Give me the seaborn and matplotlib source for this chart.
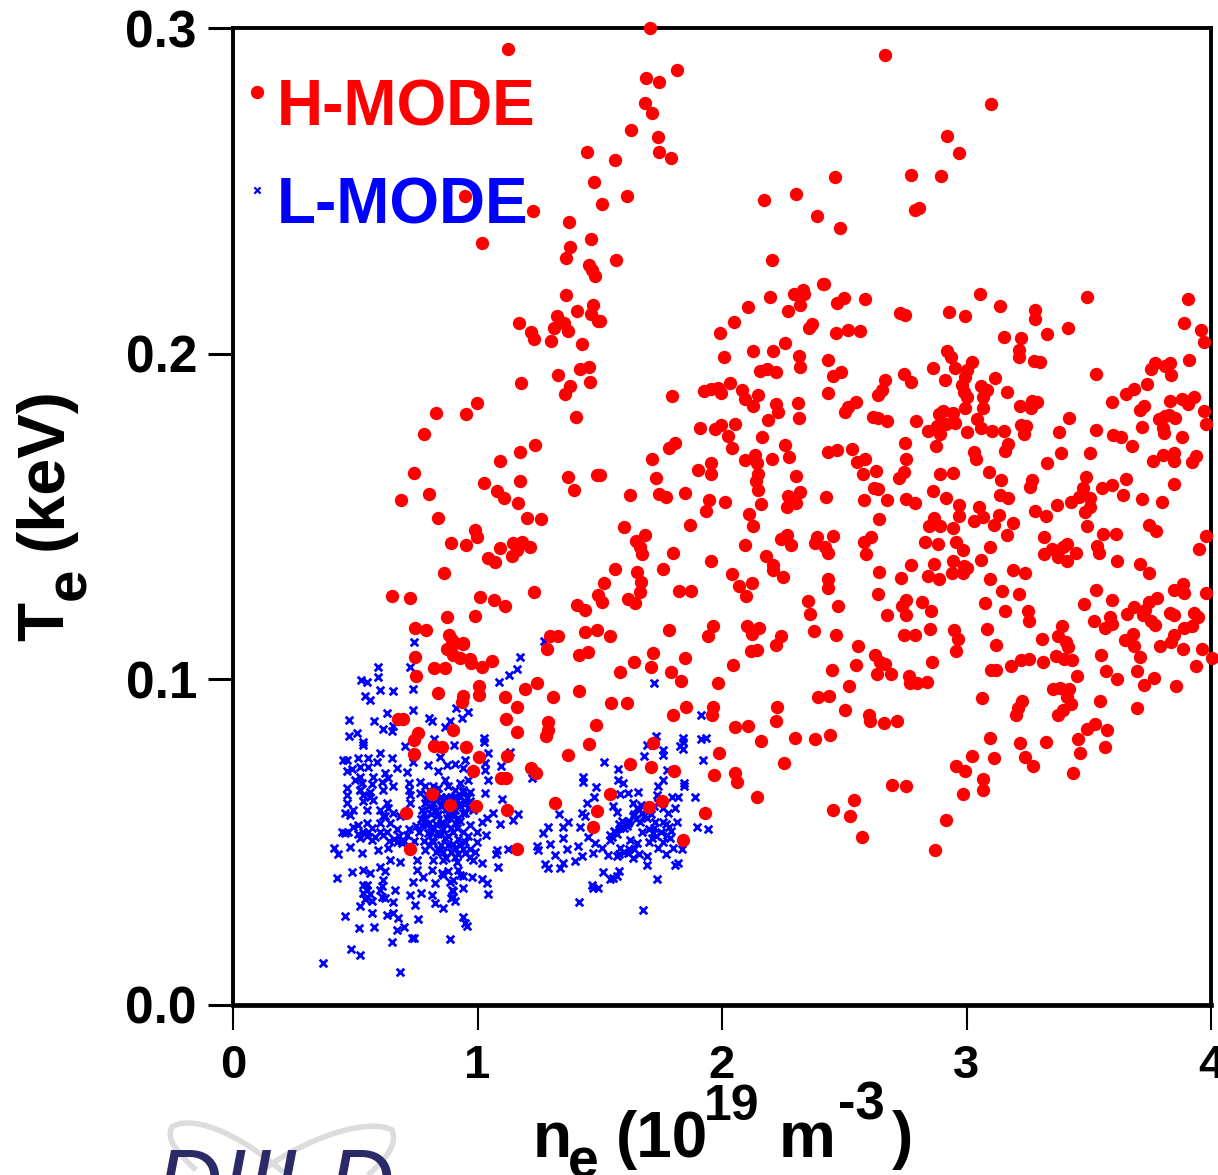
import pandas as pd
import seaborn as sns
import matplotlib.pyplot as plt
from matplotlib.patches import PathPatch
from matplotlib.path import Path

# (ne, Te)
hmode_top = [(1.706,.300),(1.125,.2935),(1.689,.2846),(1.742,.2834),(1.816,.2871),(2.667,.2917),(1.010,.2803),(1.685,.2770),
 (1.714,.2739),(3.100,.2766),(1.628,.2687),(1.738,.2665),(2.920,.2668),(1.742,.2619),(1.791,.2600),(2.969,.2616),(1.448,.2619),
 (1.562,.2594),(2.773,.2548),(2.896,.2545),(2.462,.2542),(1.476,.2527),(.949,.2484),(1.611,.2484),(1.509,.2459),(1.227,.2438),
 (2.172,.2472),(2.303,.2490),(2.789,.2441),(2.806,.2447),(2.389,.2423),(2.483,.2386),(1.374,.2404),(1.018,.2340),(1.464,.2352),
 (1.378,.2327),(1.362,.2294),(1.456,.2272),(1.566,.2287),(2.204,.2287),(1.468,.2257),(1.481,.2238),(2.413,.2214),(1.362,.2180),
 (1.170,.2094),(1.219,.2066),(1.231,.2045),(1.301,.2039),(1.325,.2115),(1.313,.2079),(1.354,.2094),(1.370,.2069),(1.407,.2131),
 (1.472,.2149),(1.464,.2122),(1.493,.2100),(1.427,.2029),(1.456,.1959),(1.419,.1953),(1.329,.1934),(1.460,.1913),(1.378,.1901),
 (1.358,.1876),(1.178,.1910),(.998,.1848),(.953,.1815),(.830,.1818),(1.403,.1805)]

hmode_left = [(.781,.1753),(.740,.1633),(.687,.1551),(.802,.1569),(.838,.1495),(1.174,.1698),(1.235,.1719),(1.092,.1670),(1.027,.1603),
 (1.174,.1609),(1.080,.1578),(1.108,.1557),(1.166,.1541),(1.202,.1495),(1.260,.1492),(.990,.1458),(.998,.1437),(.892,.1418),(.953,.1412),
 (1.145,.1418),(1.182,.1422),(1.215,.1406),(1.162,.1397),(1.141,.1379),(1.092,.1403),(1.043,.1372),(1.072,.1360),(.863,.1326),(.650,.1256),
 (.724,.1250),(1.231,.1268),(1.010,.1253),(1.067,.1243),(1.112,.1225),(.990,.1194),(.875,.1191),(.744,.1158),(.789,.1151),(.883,.1136),
 (.896,.1121),(.941,.1108),(1.407,.1228),(1.440,.1213),(1.493,.1259),(1.440,.1145),(1.489,.1151),(1.297,.1133),(1.329,.1133),(1.370,.1621),
 (1.395,.1581),(1.489,.1627),
 (.744,.1068),(.822,.1035),(.867,.1035),(.748,.1010),(.875,.1093),(.908,.1111),(.941,.1111),(.900,.1075),(.928,.1065),(.969,.1062),
 (.973,.1050),(1.018,.1038),(1.059,.1056),(1.284,.1093),(1.415,.1075),(1.452,.1084),(.838,.0958),(1.006,.0979),(1.006,.0952),(.941,.0949),
 (.937,.0930),(1.112,.0946),(1.194,.0970),(1.243,.0989),(1.309,.0946),(1.415,.0964),(1.162,.0915),(1.117,.0878),(1.162,.0838),(1.288,.0869),
 (1.288,.0844),(1.280,.0826),(1.485,.0860),(1.456,.0801),(1.370,.0768),(.675,.0878),(.695,.0878),(.900,.0844),(.757,.0835),(.740,.0814),
 (.822,.0795),(.855,.0792),(.953,.0792),(.740,.0771),(1.006,.0761),(1.121,.0765),(.982,.0718),(1.096,.0697),(1.117,.0697),(1.219,.0728),
 (1.239,.0712),(.814,.0648),(.888,.0614),(.994,.0611),(.708,.0590),(1.121,.0599),(1.317,.0620),(.724,.0479),(1.162,.0479),(1.489,.0596),(1.472,.0547)]

hmode_upper = [(2.419,.2214),(2.196,.2173),(2.293,.2183),(2.333,.2195),(2.337,.2183),(2.321,.2149),(2.269,.2130),(2.107,.2142),(2.049,.2096),
 (1.992,.2062),(1.501,.2100),(2.471,.2156),(2.500,.2171),(2.584,.2169),(2.367,.2091),(2.355,.2080),(2.466,.2063),(2.515,.2072),(2.566,.2070),
 (2.730,.2124),(2.749,.2118),(2.928,.2129),(2.995,.2115),(3.054,.2183),(3.137,.2147),(3.281,.2134),(3.282,.2107),(3.491,.2175),(3.905,.2169),
 (3.890,.2095),(3.961,.2072),(3.971,.2036),(3.417,.2080),(3.328,.2061),(3.153,.2051),(3.223,.2049),(3.216,.2010),(3.214,.1990),(3.276,.1977),
 (3.299,.1975),(2.256,.2032),(2.209,.2009),(2.128,.2008),(2.007,.1991),(2.316,.1993),(2.321,.1958),(2.434,.1982),(2.487,.1944),(2.455,.1931),
 (2.220,.1945),(2.183,.1954),(2.157,.1946),(2.031,.1911),(1.983,.1896),(1.926,.1886),(1.954,.1890),(1.994,.1880),(1.797,.1869),(2.081,.1889),
 (2.149,.1873),(2.094,.1860),(2.128,.1839),(2.222,.1845),(2.228,.1822),(2.309,.1850),(2.314,.1803),(2.188,.1796),(2.435,.1880),(2.548,.1851),
 (2.516,.1835),(2.503,.1822),(2.665,.1919),(2.655,.1888),(2.639,.1873),(2.743,.1937),(2.773,.1912),(2.616,.1806),(2.636,.1801),(2.673,.1792),
 (2.794,.1793),(2.865,.1956),(2.912,.1919),(2.920,.2008),(2.937,.1989),(2.953,.1956),(3.024,.1973),(3.004,.1950),(2.992,.1929),(2.980,.1904),
 (2.988,.1883),(3.001,.1866),(2.995,.1833),(3.118,.1925),(3.058,.1901),(3.085,.1888),(3.069,.1866),(3.066,.1832),(3.166,.1881),(3.218,.1840),
 (3.266,.1855),(3.289,.1852),(3.265,.1832),(3.418,.1801),(3.528,.1938),(3.594,.1851),(3.651,.1876),(3.686,.1890),(3.740,.1907),(3.756,.1952),
 (3.769,.1970),(3.813,.1962),(3.832,.1970),(3.837,.1935),(3.910,.1980),(3.724,.1840),(3.708,.1827),(3.831,.1855),(3.881,.1862),(3.905,.1845),
 (3.929,.1866),(3.971,.1824),(3.981,.1783),(3.787,.1800),(3.813,.1809),(3.829,.1811),(3.853,.1803),(3.716,.1776),(3.805,.1771),(3.809,.1755),
 (3.881,.1745),(3.530,.1765),(3.598,.1750),(3.632,.1745),(3.677,.1717),(3.379,.1761),(3.388,.1696),(3.506,.1696),(3.329,.1665),(3.761,.1671),
 (3.803,.1690),(3.848,.1696),(3.850,.1671),(3.921,.1666),(3.939,.1687),(3.489,.1622),(3.850,.1599),(3.654,.1615),(3.596,.1597),(3.554,.1588),
 (3.641,.1565),(3.716,.1554),(3.801,.1544),(3.477,.1586),(3.460,.1561),(3.506,.1556),(3.428,.1543),(3.371,.1535),(3.506,.1528),(3.483,.1513),
 (3.281,.1518),(3.324,.1503),(3.493,.1471),(3.557,.1446),(3.611,.1446),(3.745,.1474),(3.777,.1455),(3.979,.1441),(3.950,.1399),(3.318,.1438),
 (3.409,.1417),(3.396,.1405),(3.349,.1399),(3.315,.1385),(3.376,.1375),(3.409,.1363),(3.446,.1387),(3.535,.1409),(3.543,.1389),(3.614,.1363),
 (3.711,.1353),(3.745,.1327),(3.190,.1336),(3.240,.1327),(3.098,.1407),(3.059,.1366),(3.269,.1612),(3.258,.1591),(3.192,.1480),(3.166,.1444),
 (3.134,.1504),(3.114,.1474),(3.030,.1485),(3.066,.1497),(3.050,.1530),(3.171,.1556),(3.135,.1566),(3.143,.1612),(3.092,.1637),(2.969,.1535),
 (2.969,.1502),(2.917,.1557),(2.864,.1579),(2.890,.1632),(2.945,.1635),(3.037,.1676),(3.029,.1699),(3.171,.1722),(3.158,.1702),(3.153,.1762),
 (3.105,.1762),(3.061,.1771),(3.043,.1798),(3.001,.1758),(2.953,.1786),(2.943,.1817),(2.904,.1824),(2.888,.1814),(2.915,.1784),(2.878,.1779),
 (2.843,.1764),(2.891,.1752),(2.877,.1718),(3.223,.1781),(3.245,.1779),(3.236,.1752),(2.747,.1725),(2.752,.1676),(2.743,.1637),(2.723,.1619),
 (2.751,.1554),(2.788,.1542),(2.673,.1550),(2.637,.1583),(2.623,.1589),(2.579,.1552),(2.641,.1492),(2.628,.1639),(2.576,.1629),(2.552,.1668),
 (2.584,.1676),(2.531,.1706),(2.471,.1704),(2.435,.1699),(2.426,.1561),(2.317,.1575),(2.269,.1564),(2.303,.1541),(2.264,.1530),(2.161,.1539),
 (2.146,.1581),(2.140,.1610),(2.146,.1632),(2.144,.1663),(2.135,.1688),(2.094,.1672),(2.204,.1678),(2.272,.1684),(2.259,.1721),(2.301,.1625),
 (2.162,.1744),(2.039,.1709),(2.026,.1748),(2.054,.1783),(1.996,.1782),(1.971,.1769),(1.912,.1772),(1.808,.1727),(1.782,.1709),(1.714,.1678),
 (1.957,.1663),(1.955,.1632),(1.902,.1643),(1.731,.1619),(1.501,.1628),(1.625,.1565),(1.743,.1570),(1.773,.1559),(1.850,.1571),(1.946,.1550),
 (2.013,.1546),(1.933,.1517),(2.112,.1508),(2.125,.1471),(1.868,.1474),(1.600,.1467),(1.685,.1443),(1.650,.1426),(1.663,.1407),(1.674,.1384),
 (1.800,.1389),(1.955,.1364),(2.093,.1411),(2.241,.1432),(2.267,.1443),(2.282,.1414),(2.387,.1436),(2.382,.1419),(2.452,.1440),(2.422,.1407),
 (2.435,.1387),(2.610,.1436),(2.581,.1423),(2.589,.1384),(2.830,.1422),(2.885,.1415),(2.956,.1422),(2.985,.1397),(2.867,.1494),(2.846,.1472),
 (2.891,.1472),(2.945,.1466),(2.946,.1364),(2.988,.1348),(2.867,.1353),(2.775,.1350),(2.182,.1380),(2.207,.1351)]

hmode_lower = [(2.041,.1322),(2.068,.1288),(2.122,.1295),(2.098,.1255),(2.249,.1313),(2.209,.1335),(2.435,.1308),(2.432,.1280),(2.644,.1329),
 (2.734,.1311),(2.843,.1317),(2.886,.1307),(2.940,.1325),(2.985,.1325),(3.001,.1343),(3.098,.1307),(3.147,.1270),(3.216,.1263),(3.074,.1233),
 (3.156,.1210),(3.252,.1211),(3.257,.1178),(3.392,.1163),(3.376,.1132),(3.405,.1115),(3.417,.1098),(3.308,.1125),(3.119,.1106),(3.082,.1155),
 (2.949,.1152),(2.966,.1124),(2.956,.1088),(2.849,.1155),(2.791,.1137),(2.744,.1136),(2.856,.1209),(2.819,.1238),(2.751,.1243),(2.738,.1225),
 (2.754,.1199),(2.675,.1199),(2.637,.1263),(2.476,.1226),(2.350,.1241),(2.358,.1201),(2.376,.1149),(2.468,.1136),(2.555,.1103),(2.626,.1075),
 (2.645,.1054),(2.665,.1047),(2.547,.1044),(2.450,.1030),(2.633,.1016),(2.692,.1016),(2.764,.1011),(2.770,.0990),(2.799,.0988),(2.839,.0991),
 (2.859,.1053),(2.519,.0981),(2.392,.0946),(2.439,.0949),(2.503,.0906),(2.600,.0892),(2.605,.0872),(2.662,.0865),(2.715,.0872),(2.443,.0830),
 (2.382,.0816),(2.298,.0820),(2.224,.0916),(2.222,.0872),(2.107,.0857),(2.052,.0854),(2.161,.0812),(1.986,.0773),(2.254,.0742),(1.967,.0706),
 (2.052,.0711),(2.060,.0685),(2.144,.0640),(2.694,.0675),(2.752,.0673),(2.540,.0629),(2.455,.0598),(2.524,.0580),(2.573,.0516),(2.917,.0567),
 (2.870,.0476),(2.985,.0649),(3.069,.0660),(3.066,.0694),(2.995,.0720),(2.958,.0734),(3.022,.0765),(3.111,.0759),(3.098,.0821),(3.218,.0804),
 (3.239,.0760),(3.274,.0735),(3.326,.0808),(3.434,.0711),(3.465,.0775),(3.567,.0791),(3.457,.0816),(3.493,.0846),(3.525,.0864),(3.575,.0844),
 (3.064,.0943),(3.228,.0934),(3.211,.0911),(3.202,.0892),(3.376,.0890),(3.396,.0905),(3.428,.0925),(3.354,.0971),(3.384,.0974),(3.420,.0969),
 (3.409,.0946),(3.546,.0935),(3.696,.0912),(3.451,.1009),(3.727,.0982),(3.767,.1005),(3.858,.0979),(3.614,.1001),(3.696,.1027),(3.572,.1027),
 (3.552,.1076),(3.708,.1068),(3.939,.1042),(4.003,.1066),(3.965,.1092),(3.884,.1094),(3.792,.1101),(3.835,.1115),(3.848,.1136),(3.685,.1101),
 (3.648,.1120),(3.680,.1139),(3.520,.1179),(3.567,.1158),(3.595,.1171),(3.586,.1190),(3.656,.1200),(3.687,.1222),(3.722,.1197),(3.729,.1212),
 (3.745,.1238),(3.780,.1251),(3.595,.1243),(3.480,.1230),(3.531,.1275),(3.756,.1180),(3.771,.1166),(3.834,.1204),(3.850,.1199),(3.929,.1205),
 (3.947,.1192),(3.923,.1164),(3.890,.1159),(3.850,.1274),(3.885,.1292),(3.889,.1264),(3.979,.1264),(3.366,.1072),(3.400,.1063),(3.433,.1059),
 (3.311,.1053),(3.255,.1061),(3.223,.1059),(3.181,.1041),(3.122,.1028),(3.101,.1030),
 (1.561,.1340),(1.651,.1329),(1.668,.1299),(1.666,.1267),(1.617,.1248),(1.646,.1233),(1.517,.1296),(1.760,.1340),(1.826,.1270),(1.873,.1270),
 (1.509,.1238),(1.541,.1133),(1.782,.1153),(1.965,.1165),(1.944,.1133),(2.104,.1163),(2.152,.1159),(2.123,.1139),(2.243,.1133),(2.219,.1106),
 (2.143,.1090),(2.117,.1088),(2.047,.1044),(1.850,.1067),(1.718,.1081),(1.642,.1053),(1.710,.1037),(1.582,.1023),(1.792,.1021),(1.831,.0994),
 (1.983,.0988),(1.548,.0926),(1.613,.0928),(1.853,.0916),(1.798,.0891),(1.965,.0915),(1.958,.0892),(1.716,.0806),(1.625,.0739),(1.708,.0732),
 (1.802,.0720),(1.540,.0648),(1.701,.0607),(1.753,.0625),(1.931,.0590),(1.840,.0506)]

lmode_left = [(.740,.1116),(.592,.1039),(.594,.1008),(.724,.1037),(.523,.0998),(.547,.0993),(.601,.0967),(.654,.0964),(.738,.0969),(.540,.0949),
 (.560,.0937),(.738,.0906),(.628,.0896),(.473,.0875),(.577,.0873),(.803,.0882),(.814,.0872),(.887,.0872),(.911,.0911),(.960,.0901),(.938,.0880),
 (.867,.0853),(1.088,.0992),(1.130,.1014),(1.163,.1031),(1.172,.1070),(1.272,.1119),(.506,.0836),(.474,.0826),(.615,.0848),(.649,.0840),
 (.656,.0857),(.533,.0809),(.533,.0799),(.703,.0796),(.822,.0816),(.905,.0798),(1.027,.0819),(1.027,.0809),(1.044,.0775),(1.133,.0778),
 (.949,.0753),(.601,.0775),(.451,.0753),(.465,.0753),(.513,.0758),(.553,.0758),(.649,.0758),(.738,.0747),(.847,.0763),(.588,.0747),(.519,.0732),
 (.553,.0732),(.468,.0717),(.485,.0724),(.672,.0729),(.713,.0714),(.799,.0737),(.840,.0717),(.874,.0737),(.908,.0740),(.942,.0727),(1.031,.0742),
 (1.031,.0722),(1.096,.0735),(1.044,.0691),(.519,.0701),(.574,.0701),(.622,.0712),(.635,.0696),(.526,.0681),(.608,.0686),(.656,.0671),(.721,.0681),
 (.465,.0666),(.519,.0661),(.615,.0661),(.721,.0661),(.765,.0686),(.785,.0671),(.867,.0691),(.881,.0671),(.928,.0681),(.962,.0691),(.819,.0671),
 (.840,.0666),(.908,.0661),(.942,.0661),(.969,.0655),(.465,.0645),(.533,.0645),(.560,.0640),(.724,.0645),(.765,.0650),(.792,.0645),(.928,.0640),
 (.956,.0635),(1.031,.0650),(1.099,.0633),(.465,.0620),(.533,.0625),(.574,.0630),(.628,.0620),(.724,.0620),(.785,.0620),(.833,.0630),(.860,.0614),
 (.928,.0620),(.492,.0599),(.547,.0599),(.635,.0604),(.656,.0589),(.772,.0599),(.813,.0604),(.894,.0594),(.942,.0589),(.458,.0589),(.479,.0584),
 (.615,.0579),(.683,.0579),(.785,.0573),(.833,.0579),(.874,.0573),(1.065,.0589),(1.164,.0586),(1.037,.0573),(1.144,.0568),(.513,.0553),(.601,.0558),
 (.642,.0558),(.772,.0553),(.813,.0548),(.860,.0558),(.915,.0543),(.969,.0553),(1.017,.0563),(1.093,.0555),(.444,.0532),(.458,.0527),(.492,.0548),
 (.553,.0532),(.615,.0522),(.710,.0522),(.799,.0527),(.840,.0532),(.997,.0532),(1.035,.0522),(.519,.0512),(.567,.0507),(.669,.0502),(.690,.0497),
 (.813,.0507),(.867,.0512),(.997,.0502),(.413,.0481),(.431,.0463),(.478,.0486),(.526,.0466),(.594,.0476),(.635,.0481),(.785,.0476),(.847,.0476),
 (.908,.0481),(.949,.0466),(1.078,.0476),(1.074,.0463),(1.126,.0479),(.642,.0445),(.683,.0440),(.751,.0445),(.819,.0445),(.860,.0445),(.915,.0440),
 (.983,.0445),(1.017,.0437),(1.082,.0425),(.601,.0425),(.533,.0415),(.485,.0407),(.560,.0405),(.622,.0410),(.751,.0415),(.813,.0415),(.853,.0405),
 (.427,.0389),(.533,.0369),(.615,.0384),(.738,.0379),(.778,.0394),(.826,.0374),(.887,.0379),(.928,.0399),(.976,.0394),(1.017,.0386),(1.037,.0374),
 (.547,.0353),(.601,.0353),(.663,.0353),(.894,.0353),(.942,.0359),(.547,.0333),(.608,.0333),(.724,.0338),(.768,.0343),(.815,.0338),(.901,.0333),
 (1.042,.0340),(.519,.0305),(.567,.0318),(.656,.0315),(.746,.0307),(.826,.0313),(.860,.0297),(.567,.0282),(.458,.0272),(.631,.0276),(.656,.0282),
 (.673,.0266),(.755,.0265),(.942,.0270),(.949,.0253),(.957,.0243),(.517,.0235),(.575,.0241),(.672,.0231),(.699,.0239),(.649,.0193),(.731,.0207),
 (.742,.0207),(.887,.0202),(.481,.0172),(.518,.0152),(.367,.0128),(.684,.0101)]

lmode_core = [(.79,.0632),(.80,.0612),(.81,.0588),(.82,.0620),(.83,.0600),(.84,.0585),(.85,.0640),(.86,.0625),(.87,.0602),(.88,.0588),(.89,.0640),(.90,.0615),
 (.91,.0600),(.92,.0575),(.93,.0610),(.94,.0655),(.95,.0625),(.96,.0605),(.78,.0590),(.77,.0570),(.80,.0560),(.82,.0540),(.84,.0525),(.85,.0560),
 (.86,.0540),(.88,.0520),(.90,.0530),(.92,.0510),(.93,.0490),(.95,.0500),(.97,.0480),(.85,.0490),(.83,.0470),(.87,.0450),(.89,.0470),(.91,.0455),
 (.80,.0490),(.78,.0505),(.76,.0530),(.75,.0550),(.55,.0560),(.57,.0545),(.60,.0530),(.63,.0530),(.66,.0510),(.68,.0520),(.70,.0505),(.53,.0345),
 (.54,.0325),(.55,.0370),(.56,.0340),(.61,.0365),(.62,.0330),(.90,.0350),(.91,.0320),(.89,.0330),(.50,.0690),(.52,.0660),(.56,.0655),(.57,.0680),
 (.60,.0600),(.62,.0580),(.81,.0655),(.83,.0645),(.85,.0610),(.87,.0640),(.88,.0615),(.90,.0580),(.91,.0640),(.93,.0565),(.95,.0590),(.97,.0625),
 (.98,.0600),(.79,.0555),(.81,.0530),(.83,.0555),(.85,.0525),(.87,.0555),(.89,.0545),(.91,.0560),(.94,.0530),(.96,.0520),(.82,.0500),(.84,.0480),
 (.86,.0470),(.88,.0490),(.90,.0495),(.92,.0465),(.94,.0480),(.97,.0455),(.99,.0470),(.64,.0505),(.67,.0540),(.72,.0540),(.74,.0505),(.58,.0515),
 (.55,.0520),(.53,.0530),(.51,.0525),(.47,.0530),(.86,.0400),(.88,.0410),(.90,.0385),(.92,.0415),(.94,.0395)]

lmode_right = [(1.722,.0990),(1.729,.0826),(1.842,.0819),(1.842,.0809),(1.914,.0816),(1.935,.0821),(1.828,.0796),(1.842,.0785),(1.692,.0799),
 (1.757,.0783),(1.760,.0768),(1.681,.0766),(1.914,.0891),(1.922,.0752),(1.516,.0746),(1.576,.0724),(1.576,.0691),(1.596,.0683),(1.433,.0701),
 (1.433,.0686),(1.485,.0668),(1.774,.0722),(1.760,.0691),(1.846,.0681),(1.846,.0671),(1.224,.0696),(1.583,.0648),(1.617,.0650),(1.658,.0655),
 (1.740,.0671),(1.733,.0645),(1.794,.0640),(1.821,.0640),(1.890,.0640),(1.476,.0640),(1.446,.0620),(1.553,.0612),(1.637,.0620),(1.651,.0604),
 (1.808,.0606),(1.671,.0589),(1.335,.0587),(1.426,.0589),(1.572,.0592),(1.637,.0579),(1.692,.0573),(1.372,.0563),(1.440,.0579),(1.617,.0558),
 (1.665,.0563),(1.726,.0563),(1.760,.0563),(1.815,.0563),(1.287,.0548),(1.351,.0548),(1.419,.0548),(1.583,.0543),(1.785,.0548),(1.896,.0548),
 (1.944,.0540),(1.269,.0527),(1.562,.0532),(1.542,.0522),(1.671,.0532),(1.719,.0527),(1.774,.0522),(1.351,.0512),(1.453,.0517),(1.542,.0507),
 (1.624,.0507),(1.712,.0512),(1.787,.0512),(1.296,.0495),(1.365,.0479),(1.242,.0487),(1.249,.0476),(1.412,.0487),(1.481,.0497),(1.508,.0481),
 (1.583,.0481),(1.651,.0497),(1.740,.0481),(1.801,.0481),(1.835,.0478),(1.317,.0461),(1.426,.0456),(1.474,.0466),(1.535,.0461),(1.569,.0456),
 (1.617,.0466),(1.637,.0451),(1.692,.0456),(1.770,.0464),(1.351,.0437),(1.399,.0443),(1.276,.0433),(1.692,.0430),(1.808,.0430),(1.821,.0437),
 (1.290,.0420),(1.337,.0420),(1.515,.0408),(1.580,.0410),(1.569,.0397),(1.542,.0388),(1.556,.0390),(1.735,.0387),(1.467,.0369),(1.471,.0359),
 (1.494,.0359),(1.417,.0317),(1.677,.0291),
 (1.56,.0535),(1.58,.0555),(1.60,.0545),(1.62,.0565),(1.64,.0585),(1.66,.0600),(1.68,.0580),(1.70,.0540),(1.72,.0545),(1.75,.0530),(1.77,.0555),
 (1.60,.0470),(1.64,.0480),(1.66,.0465),(1.70,.0500),(1.72,.0610),(1.74,.0620),(1.76,.0605),(1.78,.0590),(1.55,.0515),(1.57,.0525),(1.59,.0565),
 (1.61,.0550),(1.65,.0570),(1.67,.0615),(1.69,.0600),(1.71,.0585),(1.73,.0520),(1.76,.0500),(1.79,.0535),(1.62,.0480),(1.58,.0465)]

hmode = pd.DataFrame(hmode_top + hmode_left + hmode_upper + hmode_lower, columns=['ne', 'te'])
lmode = pd.DataFrame(lmode_left + lmode_core + lmode_right, columns=['ne', 'te'])

xticks = [0, 1, 2, 3, 4]
yticks = [0.0, 0.1, 0.2, 0.3]
ytick_labels = ['0.0', '0.1', '0.2', '0.3']

W, H = 1218, 1175

sns.set_style('white')
plt.rcParams['font.family'] = ['Liberation Sans', 'DejaVu Sans']
plt.rcParams['font.weight'] = 'bold'

fig = plt.figure(figsize=(W / 100, H / 100), dpi=100)
ax = fig.add_axes([233 / W, 1 - 1005 / H, 978 / W, 977 / H])

sns.scatterplot(data=lmode, x='ne', y='te', ax=ax, marker='x', color='#0000ff', s=30, linewidth=2.0, zorder=3, clip_on=False)
sns.scatterplot(data=hmode, x='ne', y='te', ax=ax, marker='o', color='#ff0000', s=92, linewidth=0, zorder=4, clip_on=False)

ax.set_xlim(0, 4)
ax.set_ylim(0, 0.3)
ax.set_xticks(xticks)
ax.set_yticks(yticks)
ax.set_yticklabels(ytick_labels)
ax.set_xlabel('')
ax.set_ylabel('')
ax.tick_params(axis='x', direction='out', length=18, width=1.5, pad=10, labelsize=34, color='black', labelcolor='black', bottom=True)
ax.tick_params(axis='y', direction='out', length=18, width=2.2, pad=8, labelsize=37, color='black', labelcolor='black', left=True)
for name, spine in ax.spines.items():
    spine.set_visible(True)
    spine.set_color('black')
    spine.set_linewidth(3.4 if name == 'bottom' else 2.8)
    spine.set_zorder(2)

# legend written inside the axes
ax.scatter([0.0245], [0.9345], transform=ax.transAxes, marker='o', color='#ff0000', s=92, linewidth=0, zorder=4)
ax.scatter([0.0245], [0.8345], transform=ax.transAxes, marker='x', color='#0000ff', s=20, linewidth=1.6, zorder=4)
fig.text(277 / W, 1 - 126 / H, 'H-MODE', color='#ff0000', fontsize=46, fontweight='bold', zorder=1)
fig.text(277 / W, 1 - 224 / H, 'L-MODE', color='#0000ff', fontsize=46, fontweight='bold', zorder=1)


def label(x, y, s, size=46, **kw):
    fig.text(x / W, 1 - y / H, s, color='black', fontsize=size, fontweight='bold', **kw)


# axis titles, set piece by piece for the sub and superscripts
label(76, 641, 'T', rotation=90, ha='left', va='bottom', rotation_mode='anchor')
label(97, 600, 'e', rotation=90, ha='left', va='bottom', rotation_mode='anchor', size=42)
label(76, 550, '(keV)', rotation=90, ha='left', va='bottom', rotation_mode='anchor', size=48)

label(533, 1157, 'n', va='baseline')
label(568, 1177, 'e', va='baseline', size=40)
label(616, 1157, '(10', va='baseline')
label(704, 1120, '19', va='baseline', size=36)
label(779, 1157, 'm', va='baseline')
label(838, 1120, '-3', va='baseline', size=38)
label(892, 1157, ')', va='baseline')


# DIII-D logo, cut off by the lower edge of the image
def px(x, y):
    return x / W, 1 - y / H


curve = [Path.MOVETO, Path.CURVE4, Path.CURVE4, Path.CURVE4, Path.CURVE4, Path.CURVE4, Path.CURVE4]
left_arc = Path([px(283, 1172), px(235, 1130), px(190, 1115), px(172, 1127), px(165, 1140), px(180, 1155), px(196, 1170)], curve)
right_arc = Path([px(260, 1172), px(310, 1135), px(370, 1118), px(392, 1130), px(398, 1145), px(385, 1160), px(368, 1175)], curve)
for arc in (left_arc, right_arc):
    fig.add_artist(PathPatch(arc, transform=fig.transFigure, facecolor='none', edgecolor='#dcdcdc', linewidth=4))
fig.text(155 / W, 1 - 1214 / H, 'DIII-D', color='#2a2a66', fontsize=66, style='italic', fontweight='normal', family='Liberation Sans')

plt.savefig('out.png', dpi=100)
